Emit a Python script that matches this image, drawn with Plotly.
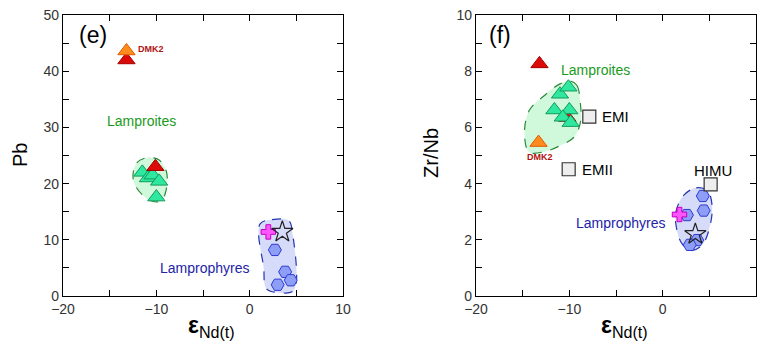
import plotly.graph_objects as go

# ---------------- data: panel (e)  Pb vs eNd(t) ----------------
e_lamproite_x = [-11.5, -10.9, -10.4, -9.7, -10.0]
e_lamproite_y = [22.0, 21.0, 21.5, 20.4, 17.6]
e_red_x = [-13.2, -10.1]
e_red_y = [42.0, 23.0]
e_dmk2_x = [-13.2]
e_dmk2_y = [43.6]
e_hex_x = [2.7, 3.8, 4.4, 3.0]
e_hex_y = [8.2, 4.3, 2.8, 2.0]
e_cross_x = [2.0]
e_cross_y = [11.4]
e_star_x = [3.5]
e_star_y = [11.4]
# field outlines
e_green_field_x = [-12.5, -12.1, -11.0, -9.7, -8.9, -9.0, -9.5, -10.5, -11.5, -12.3, -12.5]
e_green_field_y = [21.5, 23.7, 24.6, 24.2, 22.0, 18.5, 16.9, 16.9, 18.0, 19.8, 21.5]
e_blue_field_x = [1.1, 2.4, 4.2, 4.6, 5.0, 4.6, 3.2, 1.8, 1.5, 1.1]
e_blue_field_y = [12.8, 13.6, 13.4, 11.0, 2.5, 0.8, 0.6, 1.3, 5.0, 12.8]

# ---------------- data: panel (f)  Zr/Nb vs eNd(t) ----------------
f_lamproite_x = [-11.0, -10.1, -11.6, -10.0, -10.7, -9.86]
f_lamproite_y = [7.18, 7.43, 6.62, 6.62, 6.36, 6.17]
f_red_x = [-13.2, -10.2]
f_red_y = [8.26, 6.35]
f_dmk2_x = [-13.3]
f_dmk2_y = [5.46]
f_hex_x = [4.3, 4.4, 2.6, 3.7, 2.9]
f_hex_y = [3.56, 3.04, 2.88, 1.99, 1.82]
f_cross_x = [1.8]
f_cross_y = [2.9]
f_star_x = [3.5]
f_star_y = [2.2]
mantle_names = ["EMI", "EMII", "HIMU"]
mantle_x = [-7.86, -10.07, 5.14]
mantle_y = [6.38, 4.51, 3.97]
f_green_field_x = [-9.9, -9.2, -8.8, -8.8, -9.5, -11.0, -12.5, -14.3, -14.8, -14.3, -12.8, -11.0, -9.9]
f_green_field_y = [7.65, 7.5, 6.8, 6.2, 5.65, 5.35, 5.15, 5.12, 5.8, 6.6, 7.1, 7.55, 7.65]
f_blue_field_x = [2.3, 3.6, 4.8, 5.3, 5.0, 4.2, 3.0, 2.0, 1.4, 1.5, 2.3]
f_blue_field_y = [3.6, 3.85, 3.75, 3.2, 2.4, 1.8, 1.62, 1.9, 2.6, 3.1, 3.6]

x_ticks = [-20, -15, -10, -5, 0, 5, 10]
x_ticktext = ["\u221220", " ", "\u221210", " ", "0", " ", "10"]
e_y_ticks = [0, 5, 10, 15, 20, 25, 30, 35, 40, 45, 50]
e_y_ticktext = ["0", " ", "10", " ", "20", " ", "30", " ", "40", " ", "50"]
f_y_ticks = list(range(0, 11))
f_y_ticktext = ["0", " ", "2", " ", "4", " ", "6", " ", "8", " ", "10"]

GREEN_FILL = "#2ee8a0"
GREEN_LINE = "#139a5c"
RED_FILL = "#dd0a0a"
RED_LINE = "#a50000"
ORANGE_FILL = "#ff8c1f"
ORANGE_LINE = "#e05a00"
HEX_FILL = "#8e9df5"
HEX_LINE = "#2c3bd2"

fig = go.Figure()


def add_panel(xa, ya, gfx, gfy, bfx, bfy, red_x, red_y, lx, ly, dx, dy, hx, hy, cx, cy, sx, sy, red_first):
    # compositional fields
    fig.add_trace(go.Scatter(x=gfx, y=gfy, mode="lines", line=dict(shape="spline", smoothing=1.0, color="#2a8a3a", width=1.2, dash="dash"),
                             fill="toself", fillcolor="rgba(150,240,175,0.45)", xaxis=xa, yaxis=ya, hoverinfo="skip"))
    fig.add_trace(go.Scatter(x=bfx, y=bfy, mode="lines", line=dict(shape="spline", smoothing=1.0, color="#2435b0", width=1.2, dash="dash"),
                             fill="toself", fillcolor="rgba(165,175,245,0.45)", xaxis=xa, yaxis=ya, hoverinfo="skip"))
    tri_red = go.Scatter(x=red_x, y=red_y, mode="markers", xaxis=xa, yaxis=ya,
                         marker=dict(symbol="triangle-up", size=15, color=RED_FILL, line=dict(color=RED_LINE, width=1)))
    tri_green = go.Scatter(x=lx, y=ly, mode="markers", xaxis=xa, yaxis=ya,
                           marker=dict(symbol="triangle-up", size=15, color=GREEN_FILL, line=dict(color=GREEN_LINE, width=1)))
    if red_first:
        fig.add_trace(tri_red)
        fig.add_trace(tri_green)
    else:
        fig.add_trace(tri_green)
        fig.add_trace(tri_red)
    fig.add_trace(go.Scatter(x=dx, y=dy, mode="markers", xaxis=xa, yaxis=ya,
                             marker=dict(symbol="triangle-up", size=15, color=ORANGE_FILL, line=dict(color=ORANGE_LINE, width=1))))
    fig.add_trace(go.Scatter(x=hx, y=hy, mode="markers", xaxis=xa, yaxis=ya,
                             marker=dict(symbol="hexagon2", size=13, color=HEX_FILL, line=dict(color=HEX_LINE, width=1))))
    fig.add_trace(go.Scatter(x=cx, y=cy, mode="markers", xaxis=xa, yaxis=ya,
                             marker=dict(symbol="cross", size=12, color="#ff55ff", line=dict(color="#c000c0", width=1))))
    fig.add_trace(go.Scatter(x=sx, y=sy, mode="markers", xaxis=xa, yaxis=ya,
                             marker=dict(symbol="star-open", size=16, color="#222222", line=dict(color="#222222", width=1.2))))


add_panel("x", "y", e_green_field_x, e_green_field_y, e_blue_field_x, e_blue_field_y,
          e_red_x, e_red_y, e_lamproite_x, e_lamproite_y, e_dmk2_x, e_dmk2_y,
          e_hex_x, e_hex_y, e_cross_x, e_cross_y, e_star_x, e_star_y, red_first=False)
add_panel("x2", "y2", f_green_field_x, f_green_field_y, f_blue_field_x, f_blue_field_y,
          f_red_x, f_red_y, f_lamproite_x, f_lamproite_y, f_dmk2_x, f_dmk2_y,
          f_hex_x, f_hex_y, f_cross_x, f_cross_y, f_star_x, f_star_y, red_first=True)

# mantle end-members
fig.add_trace(go.Scatter(x=mantle_x, y=mantle_y, mode="markers", xaxis="x2", yaxis="y2",
                         marker=dict(symbol="square", size=13, color="#eeeeee", line=dict(color="#333333", width=1.2))))

axis_common = dict(showline=True, linecolor="black", linewidth=1.3, mirror="ticks", ticks="inside",
                   ticklen=6, tickwidth=1.2, tickcolor="black", showgrid=False, zeroline=False, automargin=False,
                   tickfont=dict(family="Arial, Liberation Sans, sans-serif", size=14, color="#333333"))

yd = [49 / 345, 330 / 345]
fig.update_layout(
    width=758, height=345,
    margin=dict(l=0, r=0, t=0, b=0, autoexpand=False),
    paper_bgcolor="white", plot_bgcolor="white",
    showlegend=False,
    xaxis=dict(domain=[63 / 758, 343 / 758], range=[-20, 10], tickmode="array", tickvals=x_ticks, ticktext=x_ticktext, anchor="y", **axis_common),
    yaxis=dict(domain=yd, range=[0, 50], tickmode="array", tickvals=e_y_ticks, ticktext=e_y_ticktext, anchor="x", **axis_common),
    xaxis2=dict(domain=[476 / 758, 756 / 758], range=[-20, 10], tickmode="array", tickvals=x_ticks, ticktext=x_ticktext, anchor="y2", **axis_common),
    yaxis2=dict(domain=yd, range=[0, 10], tickmode="array", tickvals=f_y_ticks, ticktext=f_y_ticktext, anchor="x2", **axis_common),
)

FONT = "Arial, Liberation Sans, sans-serif"
ann = []
# panel letters
ann.append(dict(text="(e)", xref="x domain", yref="y domain", x=0.05, y=0.93, xanchor="left", yanchor="middle",
                showarrow=False, font=dict(family=FONT, size=23, color="black")))
ann.append(dict(text="(f)", xref="x2 domain", yref="y2 domain", x=0.038, y=0.93, xanchor="left", yanchor="middle",
                showarrow=False, font=dict(family=FONT, size=23, color="black")))
# axis titles
for xc in [(63 + 343) / 2, (476 + 756) / 2]:
    ann.append(dict(text="<b>\u03b5</b><sub>Nd(t)</sub>", xref="paper", yref="paper", x=(xc + 8) / 758, y=(345 - 326) / 345,
                    xanchor="center", yanchor="middle", showarrow=False, font=dict(family=FONT, size=23, color="black")))
ann.append(dict(text="Pb", xref="paper", yref="paper", x=20 / 758, y=(345 - 155) / 345, textangle=-90,
                xanchor="center", yanchor="middle", showarrow=False, font=dict(family=FONT, size=20, color="black")))
ann.append(dict(text="Zr/Nb", xref="paper", yref="paper", x=431 / 758, y=(345 - 153) / 345, textangle=-90,
                xanchor="center", yanchor="middle", showarrow=False, font=dict(family=FONT, size=20, color="black")))

# group labels
labels = [
    ("x", "y", "Lamproites", -11.6, 31.2, "#1a9a1a", 14, False, "center"),
    ("x", "y", "Lamprophyres", -4.8, 5.0, "#2323a8", 14, False, "center"),
    ("x", "y", "DMK2", -10.6, 43.9, "#b01212", 9, True, "center"),
    ("x2", "y2", "Lamproites", -7.25, 8.04, "#1a9a1a", 14, False, "center"),
    ("x2", "y2", "Lamprophyres", -4.5, 2.59, "#2323a8", 14, False, "center"),
    ("x2", "y2", "DMK2", -13.1, 4.93, "#b01212", 9, True, "center"),
]
for xr, yr, t, x, y, c, s, b, anc in labels:
    ann.append(dict(text=f"<b>{t}</b>" if b else t, xref=xr, yref=yr, x=x, y=y, xanchor=anc, yanchor="middle",
                    showarrow=False, font=dict(family=FONT, size=s, color=c)))

# mantle end-member labels
mantle_label_pos = [(-6.7, 6.38, "left"), (-8.9, 4.51, "left"), (5.4, 4.45, "center")]
for name, (x, y, anc) in zip(mantle_names, mantle_label_pos):
    ann.append(dict(text=name, xref="x2", yref="y2", x=x, y=y, xanchor=anc, yanchor="middle",
                    showarrow=False, font=dict(family=FONT, size=15, color="black")))

fig.update_layout(annotations=ann)
fig.write_html("out.html")
